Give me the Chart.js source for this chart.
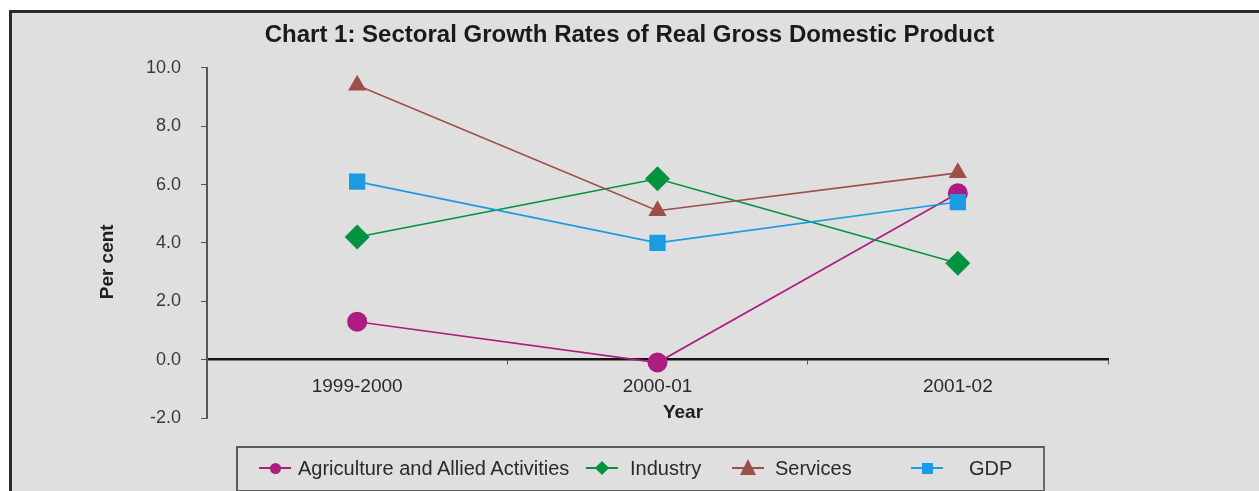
<!DOCTYPE html>
<html>
<head>
<meta charset="utf-8">
<script src="https://cdn.jsdelivr.net/npm/chart.js@4.4.1/dist/chart.umd.min.js"></script>
<style>
  html, body { margin: 0; padding: 0; background: #ffffff; }
  #wrap { position: relative; width: 1259px; height: 491px; overflow: hidden; }
  #frame {
    position: absolute; left: 9px; top: 10px; width: 1300px; height: 520px;
    background: #dfdfdf; border-top: 3px solid #2b2b2b; border-left: 3px solid #2b2b2b;
  }
  #chartCanvas { position: absolute; left: 0; top: 0; }
  #legend {
    position: absolute; left: 236px; top: 446px; width: 805px; height: 42px;
    border: 2px solid #5a5a5a; border-right-color: #6a6a6a;
    font-family: Arial, "Liberation Sans", sans-serif; font-size: 20px; color: #2a2a2a;
  }
  .item { position: absolute; top: 0; height: 40px; display: flex; align-items: center; }
  .key { position: relative; width: 32px; height: 20px; }
  .key .ln { position: absolute; left: 0; right: 0; top: 9px; height: 2px; }
  .key .mk { position: absolute; left: 50%; top: 50%; }
</style>
</head>
<body>
<div id="wrap">
  <div id="frame"></div>
  <canvas id="chartCanvas" width="1259" height="491"></canvas>
  <div id="legend"></div>
</div>
<script>
// Sectoral growth rates (per cent)
const years = ['1999-2000', '2000-01', '2001-02'];
const agriculture = [1.3, -0.1, 5.7];
const industry = [4.2, 6.2, 3.3];
const services = [9.4, 5.1, 6.4];
const gdp = [6.1, 4.0, 5.4];
const yTicks = [-2, 0, 2, 4, 6, 8, 10];

const seriesNames = ['Agriculture and Allied Activities', 'Industry', 'Services', 'GDP'];
const seriesColors = ['#ad1d80', '#00923f', '#9d5048', '#1a9be2'];
const seriesShapes = ['circle', 'rectRot', 'triangle', 'rect'];
const seriesRadius = [10, 12.5, 10.5, 11.5];
const seriesData = [agriculture, industry, services, gdp];

const FONT = 'Arial, "Liberation Sans", sans-serif';

// axis titles are drawn by hand so they sit where the original has them
const axisTitles = {
  id: 'axisTitles',
  afterDraw(chart) {
    const { ctx, chartArea } = chart;
    ctx.save();
    ctx.fillStyle = '#1e1e1e';
    ctx.font = 'bold 19px ' + FONT;
    ctx.textAlign = 'center';
    ctx.textBaseline = 'middle';
    ctx.fillText('Year', chartArea.left + 476, chartArea.bottom - 5);
    ctx.translate(chartArea.left - 99, chartArea.top + 194);
    ctx.rotate(-Math.PI / 2);
    ctx.fillText('Per cent', 0, 0);
    ctx.restore();
  }
};

const ctx = document.getElementById('chartCanvas').getContext('2d');
const chart = new Chart(ctx, {
  type: 'line',
  data: {
    labels: years,
    datasets: seriesData.map((d, i) => ({
      label: seriesNames[i],
      data: d,
      borderColor: seriesColors[i],
      backgroundColor: seriesColors[i],
      borderWidth: 1.6,
      pointStyle: seriesShapes[i],
      pointRadius: seriesRadius[i],
      pointBorderWidth: 0,
      tension: 0,
      order: 3 - i
    }))
  },
  options: {
    responsive: false,
    animation: false,
    devicePixelRatio: 1,
    layout: { padding: { left: 0, right: 0, top: 0, bottom: 73 } },
    plugins: {
      legend: { display: false },
      tooltip: { enabled: false },
      title: {
        display: true,
        text: 'Chart 1: Sectoral Growth Rates of Real Gross Domestic Product',
        color: '#1a1a1a',
        font: { family: FONT, size: 24, weight: 'bold' },
        padding: { top: 21, bottom: 18 }
      }
    },
    scales: {
      x: {
        type: 'category',
        offset: true,
        position: { y: 0 },
        afterFit(scale) { scale.height = 0; },
        border: { display: true, color: '#151515', width: 2.5 },
        grid: { offset: true, drawOnChartArea: false, drawTicks: true, tickLength: 4, color: '#555555' },
        ticks: {
          color: '#2a2a2a',
          padding: 12,
          font: { family: FONT, size: 19 }
        }
      },
      y: {
        min: -2,
        max: 10,
        afterFit(scale) { scale.width = 207; },
        afterBuildTicks(scale) { scale.ticks = yTicks.map(v => ({ value: v })); },
        border: { display: true, color: '#555555', width: 2 },
        grid: { drawOnChartArea: false, drawTicks: true, tickLength: 6, color: '#555555' },
        ticks: {
          color: '#3a3a3a',
          padding: 20,
          font: { family: FONT, size: 18 },
          callback: v => Number(v).toFixed(1)
        }
      },
      // empty right-hand margin so the title centres on the whole frame
      spacer: {
        type: 'linear',
        position: 'right',
        afterFit(scale) { scale.width = 151; },
        border: { display: false },
        grid: { display: false },
        ticks: { display: false }
      }
    }
  },
  plugins: [axisTitles]
});

// legend built from the chart's datasets
const legendX = [21, 348, 494, 673];
const legendGap = [7, 12, 11, 26];
const legend = document.getElementById('legend');
chart.data.datasets.forEach((ds, i) => {
  const item = document.createElement('div');
  item.className = 'item';
  item.style.left = legendX[i] + 'px';
  const c = ds.borderColor;
  let mk = '';
  if (ds.pointStyle === 'circle') {
    mk = `<div class="mk" style="width:11px;height:11px;margin:-5.5px 0 0 -5.5px;border-radius:50%;background:${c}"></div>`;
  } else if (ds.pointStyle === 'rectRot') {
    mk = `<div class="mk" style="width:10px;height:10px;margin:-5px 0 0 -5px;transform:rotate(45deg);background:${c}"></div>`;
  } else if (ds.pointStyle === 'triangle') {
    mk = `<div class="mk" style="width:0;height:0;margin:-9px 0 0 -8px;border-left:8px solid transparent;border-right:8px solid transparent;border-bottom:16px solid ${c}"></div>`;
  } else {
    mk = `<div class="mk" style="width:11px;height:11px;margin:-5.5px 0 0 -5.5px;background:${c}"></div>`;
  }
  item.innerHTML = `<div class="key"><div class="ln" style="background:${c}"></div>${mk}</div><span style="margin-left:${legendGap[i]}px">${ds.label}</span>`;
  legend.appendChild(item);
});
</script>
</body>
</html>
